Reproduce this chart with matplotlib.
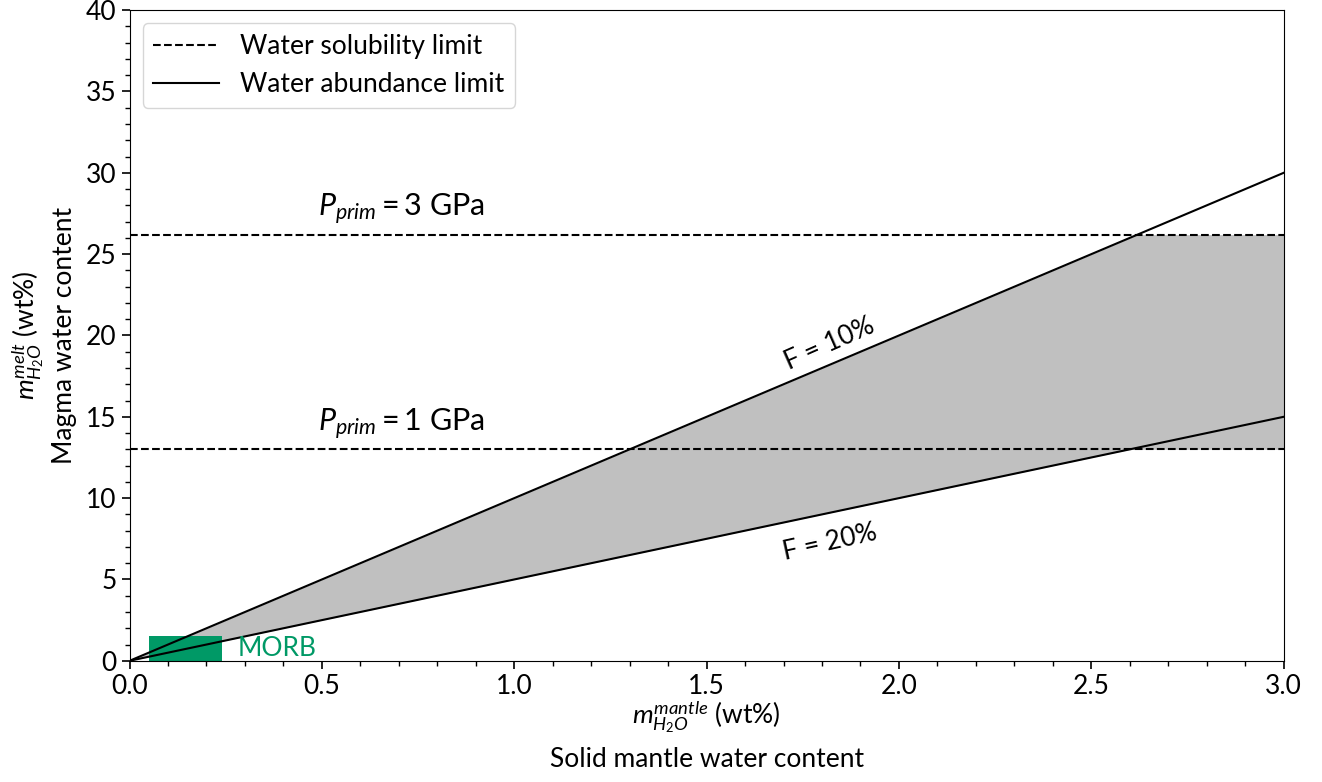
import numpy as np
import matplotlib
matplotlib.use('Agg')
import matplotlib.pyplot as plt
from matplotlib.patches import Rectangle
from matplotlib.ticker import MultipleLocator

plt.rcParams['font.family'] = ['Lato', 'DejaVu Sans']
plt.rcParams['mathtext.fontset'] = 'custom'
plt.rcParams['mathtext.rm'] = 'Lato'
plt.rcParams['mathtext.it'] = 'Lato:italic'
plt.rcParams['font.size'] = 19

# melt fractions and solubility limits
melt_fractions = [0.10, 0.20]      # F
frac_labels = ['F = 10%', 'F = 20%']
sol_limits = [26.2, 13.0]          # wt%, P_prim = 3 and 1 GPa
sol_labels = [r'$P_{prim} = 3$ GPa', r'$P_{prim} = 1$ GPa']
morb_x = [0.05, 0.24]
morb_y = [0.0, 1.5]
x = np.linspace(0, 3, 301)

fig, ax = plt.subplots(figsize=(13.22, 7.82), dpi=100)

upper = np.minimum(x / melt_fractions[0], sol_limits[0])
lower = np.minimum(x / melt_fractions[1], sol_limits[1])
ax.fill_between(x, lower, upper, color='#c0c0c0', lw=0)

ax.add_patch(Rectangle((morb_x[0], morb_y[0]), morb_x[1] - morb_x[0],
                       morb_y[1] - morb_y[0], color='#009966', lw=0, zorder=1.5))
ax.text(0.28, 0.0, 'MORB', color='#009966', fontsize=19, va='bottom', ha='left')

for i, lim in enumerate(sol_limits):
    ax.axhline(lim, color='k', ls='--', lw=1.5,
               label='Water solubility limit' if i == 0 else None)
    ax.text(0.49, lim + 0.45, sol_labels[i], fontsize=22, va='bottom', ha='left')

for i, f in enumerate(melt_fractions):
    ax.plot(x, x / f, color='k', lw=1.5,
            label='Water abundance limit' if i == 0 else None)

ax.set_xlim(0, 3)
ax.set_ylim(0, 40)

# rotated labels along the lines, angle from screen slope
fig.canvas.draw()
for f, lab, dy in zip(melt_fractions, frac_labels, [1.3, -1.8]):
    xt = 1.82
    p1 = ax.transData.transform((0, 0))
    p2 = ax.transData.transform((1, 1 / f))
    ang = np.degrees(np.arctan2(p2[1] - p1[1], p2[0] - p1[0]))
    ax.text(xt, xt / f + dy, lab, rotation=ang, rotation_mode='anchor',
            ha='center', va='center', fontsize=19)

ax.xaxis.set_major_locator(MultipleLocator(0.5))
ax.xaxis.set_minor_locator(MultipleLocator(0.1))
ax.yaxis.set_major_locator(MultipleLocator(5))
ax.yaxis.set_minor_locator(MultipleLocator(1))
ax.tick_params(which='major', length=6, width=1.2, labelsize=19)
ax.tick_params(which='minor', length=3.5, width=1)
ax.xaxis.set_major_formatter(matplotlib.ticker.FormatStrFormatter('%.1f'))

ax.set_xlabel(r'$m_{H_2O}^{mantle}$ (wt%)' + '\nSolid mantle water content',
              fontsize=19, labelpad=0, linespacing=1.6)
ax.set_ylabel(r'$m_{H_2O}^{melt}$ (wt%)' + '\nMagma water content',
              fontsize=19, labelpad=6, linespacing=1.3)

ax.legend(loc='upper left', fontsize=19, handlelength=2.5)

fig.subplots_adjust(left=0.098, right=0.971, top=0.987, bottom=0.155)
fig.savefig('out.png', dpi=100)
